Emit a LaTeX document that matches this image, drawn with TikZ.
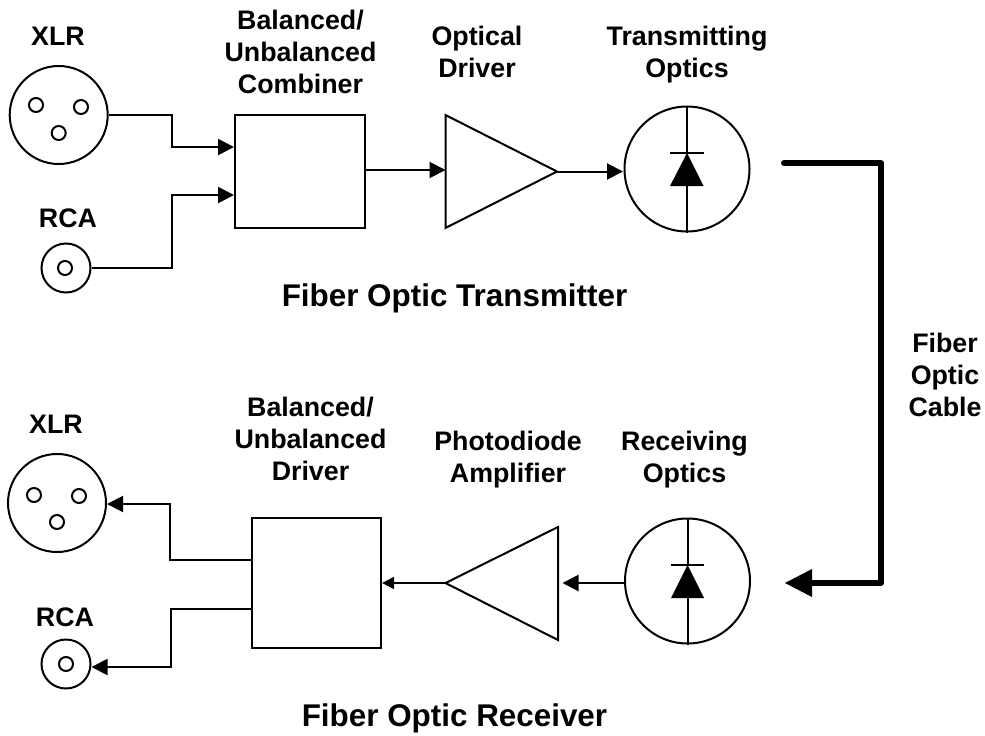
\documentclass[tikz,border=0pt]{standalone}
\usepackage{fontspec}
\setmainfont{Liberation Sans}
\usetikzlibrary{arrows.meta,shapes.geometric}
\tikzset{
  wire/.style={line width=2pt},
  sig/.style={wire,-{Triangle[length=16pt,width=16pt]}},
  sigsmall/.style={wire,-{Triangle[length=12pt,width=12pt]}},
  fiber/.style={line width=6pt,line cap=round,line join=round},
  xlrbody/.style={circle,draw,line width=2pt,minimum size=98pt,inner sep=0pt},
  rcabody/.style={circle,draw,line width=2pt,minimum size=49pt,inner sep=0pt},
  opt/.style={circle,draw,line width=2pt,minimum size=125pt,inner sep=0pt},
  pin/.style={circle,draw,line width=2pt,minimum size=14pt,inner sep=0pt},
  boxn/.style={rectangle,draw,line width=2pt,minimum width=130pt,minimum height=113pt,inner sep=0pt},
  lab/.style={font=\fontsize{26.8}{32}\selectfont\bfseries,align=center,inner sep=0pt},
  title/.style={font=\fontsize{31.4}{36}\selectfont\bfseries,inner sep=0pt},
}
\begin{document}
\begin{tikzpicture}[x=1pt,y=-1pt]
\useasboundingbox (0,0) rectangle (985,736);
% --- transmitter
\node[xlrbody] (xa) at (58.7,115) {};
\node[pin] (xa1) at (36,105) {};
\node[pin] (xa2) at (81,107) {};
\node[pin] (xa3) at (58.7,133) {};
\node[rcabody] (ra) at (66,268) {};
\node[pin] (ra1) at (65,268) {};
\node[boxn] (ba) at (300,171.5) {};
\coordinate (bain1) at (ba.west |- 0,147);
\coordinate (bain2) at (ba.west |- 0,195);
\coordinate (ta) at (445.5,115);
\coordinate (tb) at (445.5,228);
\coordinate (tc) at (557,171.5);
\coordinate (tin) at (445.5,170);
\draw[wire] (ta) -- (tb) -- (tc) -- cycle;
\node[opt] (oa) at (687,169) {};
\coordinate (oain) at (623,171.5);
\draw[sig] (xa.east) -- (172,115) -- (172,147) -- (bain1);
\draw[sig] (ra.east) -- (172,268) -- (172,195) -- (bain2);
\draw[sig] (ba.east |- tin) -- (tin);
\draw[sig] (tc) -- (oain);
% diode top
\coordinate (da) at (687,153);
\draw[wire] (oa.north) -- (da);
\draw[wire] (670,153) -- (703.5,153);
\fill (da) -- (703.5,186) -- (670,186) -- cycle;
\draw[wire] (687,186) -- (oa.south);
% --- cable
\coordinate (fs) at (784,163);
\coordinate (fc) at (881,163);
\coordinate (fd) at (881,583);
\coordinate (fb) at (812,583);
\coordinate (fe) at (785,583);
\draw[fiber] (fs) -- (fc) -- (fd) -- (fb);
\fill (fe) -- (812,569) -- (812,597) -- cycle;
% --- receiver
\node[opt] (ob) at (687.5,581) {};
\coordinate (db) at (687.5,565);
\draw[wire] (ob.north) -- (db);
\draw[wire] (671,565) -- (704,565);
\fill (db) -- (704,598) -- (671,598) -- cycle;
\draw[wire] (687.5,598) -- (ob.south);
\coordinate (tl) at (445.5,583);
\coordinate (tu) at (558,527);
\coordinate (td) at (558,640);
\draw[wire] (tl) -- (tu) -- (td) -- cycle;
\coordinate (tout) at (562.5,583);
\node[boxn,minimum width=129.5pt,minimum height=130pt] (bb) at (316.3,583) {};
\draw[sig] (ob.west |- tout) -- (tout);
\draw[sigsmall] (tl) -- (bb.east |- tl);
\node[xlrbody] (xb) at (57,503) {};
\node[pin] (xb1) at (34,495) {};
\node[pin] (xb2) at (79,496) {};
\node[pin] (xb3) at (57,522) {};
\node[rcabody] (rb) at (66,664) {};
\node[pin] (rb1) at (66,664) {};
\draw[sig] (bb.west |- 0,560) -- (170,560) -- (170,504) -- (xb.east |- 0,504);
\draw[sig] (bb.west |- 0,609) -- (171,609) -- (171,667) -- (rb.east |- 0,667);
% --- labels
\node[lab] (l1) at (58,36) {XLR};
\node[lab] (l2) at (68,218) {RCA};
\node[lab] (l3) at (300.5,52) {Balanced/\\Unbalanced\\Combiner};
\node[lab] (l4) at (477,52) {Optical\\Driver};
\node[lab] (l5) at (687,55) {Transmitting\\Optics};
\node[title] (l6) at (454.5,298.5) {Fiber Optic Transmitter};
\node[lab] (l7) at (945,375) {Fiber\\Optic\\Cable};
\node[lab] (l8) at (310.5,439) {Balanced/\\Unbalanced\\Driver};
\node[lab] (l9) at (508,460) {Photodiode\\Amplifier};
\node[lab] (l10) at (684.5,460) {Receiving\\Optics};
\node[lab] (l11) at (56,424) {XLR};
\node[lab] (l12) at (65,617) {RCA};
\node[title] (l13) at (454.5,718.5) {Fiber Optic Receiver};
\end{tikzpicture}
\end{document}
